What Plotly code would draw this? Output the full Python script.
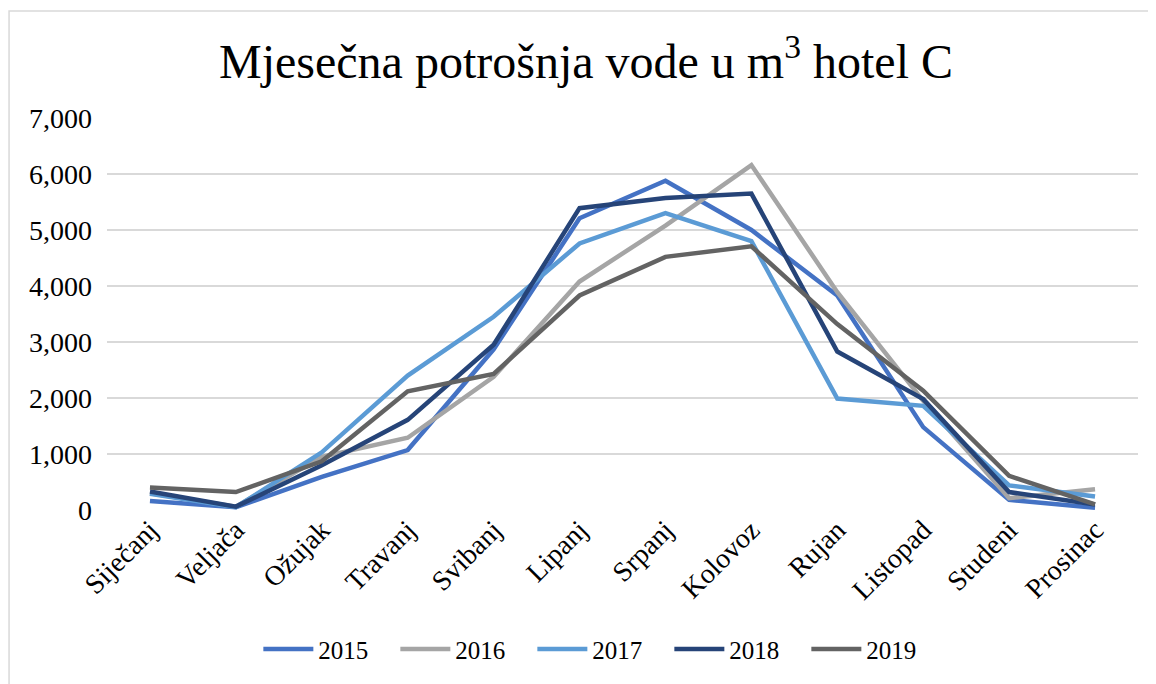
import plotly.graph_objects as go

months = ["Siječanj", "Veljača", "Ožujak", "Travanj", "Svibanj", "Lipanj",
          "Srpanj", "Kolovoz", "Rujan", "Listopad", "Studeni", "Prosinac"]

y2015 = [160, 50, 590, 1070, 2870, 5210, 5880, 5000, 3830, 1480, 180, 40]
y2016 = [300, 60, 950, 1290, 2380, 4080, 5080, 6160, 3890, 1950, 210, 370]
y2017 = [290, 50, 1030, 2400, 3450, 4760, 5300, 4800, 1990, 1860, 440, 240]
y2018 = [330, 60, 800, 1610, 2950, 5390, 5570, 5650, 2830, 1980, 320, 100]
y2019 = [400, 320, 870, 2120, 2430, 3830, 4520, 4710, 3320, 2130, 610, 100]

series = [("2015", y2015, "#4472C4"),
          ("2016", y2016, "#A5A5A5"),
          ("2017", y2017, "#5B9BD5"),
          ("2018", y2018, "#264478"),
          ("2019", y2019, "#636363")]

fig = go.Figure()
for name, vals, col in series:
    fig.add_trace(go.Scatter(x=months, y=vals, name=name, mode="lines",
                             line=dict(color=col, width=4.5)))

# outer chart border (light grey, like the Excel chart area)
fig.add_shape(type="rect", xref="paper", yref="paper",
              x0=-0.095, x1=1.2, y0=-0.6, y1=1.273,
              line=dict(color="#D9D9D9", width=1.5), layer="below")

fig.update_layout(
    width=1156, height=684,
    margin=dict(l=99, r=26, t=110, b=182),
    paper_bgcolor="white", plot_bgcolor="white",
    font=dict(family="Liberation Serif", color="black", size=28),
    title=dict(text="Mjesečna potrošnja vode u m<sup>3</sup> hotel C",
               font=dict(size=48, family="Liberation Serif", color="black"),
               x=0.5, xanchor="center", y=0.922, yanchor="middle"),
    showlegend=True,
    legend=dict(orientation="h", x=0.479, xanchor="center", y=-0.355, yanchor="middle",
                font=dict(size=25), entrywidth=72, itemwidth=50),
)
fig.update_xaxes(range=[-0.5, 11.5], tickangle=-45, showgrid=False, automargin=False,
                 showline=False, ticks="", tickfont=dict(size=28),
                 ticklabelstandoff=-3)
fig.update_yaxes(range=[0, 7000], dtick=1000, tickformat=",d", automargin=False,
                 gridcolor="#D9D9D9", gridwidth=1.5, zeroline=False,
                 showline=False, ticks="", ticklabelstandoff=14, tickfont=dict(size=28))

fig.write_html("out.html")
